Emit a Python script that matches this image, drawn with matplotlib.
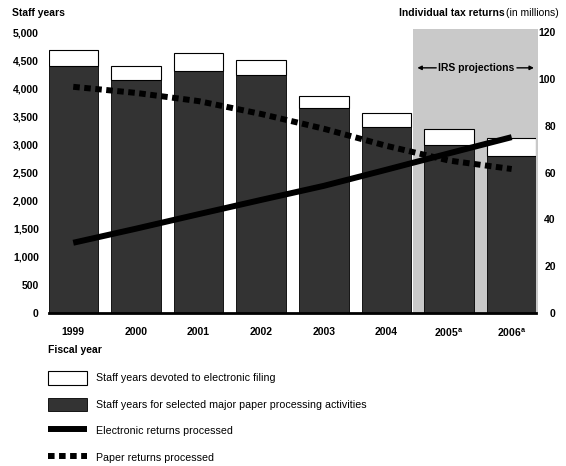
import matplotlib
matplotlib.use("Agg")
import matplotlib.pyplot as plt
from matplotlib.patches import Patch
from matplotlib.lines import Line2D

plt.rcParams['font.family'] = ['Liberation Sans', 'DejaVu Sans']

years = ["1999", "2000", "2001", "2002", "2003", "2004", "2005$^{\\mathregular{a}}$", "2006$^{\\mathregular{a}}$"]
paper_staff = [4400, 4150, 4310, 4235, 3640, 3305, 2990, 2800]
efile_staff = [280, 250, 310, 265, 225, 250, 285, 320]
electronic_returns = [30.0, 36.0, 42.2, 48.3, 54.3, 61.2, 68.2, 75.1]
paper_returns = [96.6, 94.0, 90.5, 85.0, 78.7, 71.4, 65.1, 61.5]
left_ticks = [0, 500, 1000, 1500, 2000, 2500, 3000, 3500, 4000, 4500, 5000]
right_ticks = [0, 20, 40, 60, 80, 100, 120]

dark = "#333333"
shade = "#c9c9c9"

fig = plt.figure(figsize=(5.66, 4.66), dpi=100)
ax = fig.add_axes([0.0857, 0.3283, 0.862, 0.603])
ax2 = ax.twinx()

x = list(range(len(years)))

# projection band behind everything
ax.axvspan(5.43, 7.42, ymin=0, ymax=1.012, color=shade, lw=0, zorder=0, clip_on=False)

ax.bar(x, paper_staff, width=0.79, color=dark, edgecolor="black", linewidth=0.6, zorder=2)
ax.bar(x, efile_staff, width=0.79, bottom=paper_staff, color="white", edgecolor="black",
       linewidth=0.8, zorder=2)

ax.set_xlim(-0.395, 7.395)
ax.set_ylim(0, 5000)
ax2.set_ylim(0, 120)

ax2.plot(x, electronic_returns, color="black", lw=4.3, solid_capstyle="butt", zorder=5)
ax2.plot(x, paper_returns, color="black", lw=4.3, dashes=(1.1, 0.75),
         dash_capstyle="butt", zorder=5)

ax.set_zorder(1)
ax2.set_zorder(2)
ax.patch.set_visible(False)
ax2.patch.set_visible(False)

for a in (ax, ax2):
    for side in ("top", "left", "right"):
        a.spines[side].set_visible(False)
ax2.spines["bottom"].set_visible(False)
ax.spines["bottom"].set_linewidth(2.0)
ax.spines["bottom"].set_zorder(6)

ax.set_xticks(x)
ax.set_xticklabels(years, fontsize=7.5, fontweight="bold")
ax.set_yticks(left_ticks)
ax.set_yticklabels([f"{v:,}" for v in left_ticks], fontsize=7.5, fontweight="bold")
ax2.set_yticks(right_ticks)
ax2.set_yticklabels([str(v) for v in right_ticks], fontsize=7.5, fontweight="bold", ha="right")
ax.tick_params(axis="x", length=0, pad=10)
ax.tick_params(axis="y", length=0, pad=7)
ax2.tick_params(axis="y", length=0, pad=14)

fig.text(0.021, 0.972, "Staff years", fontsize=7.5, fontweight="bold", va="center")
fig.text(0.085, 0.249, "Fiscal year", fontsize=7.5, fontweight="bold", va="center")
t = fig.text(0.988, 0.972, "(in millions)", fontsize=7.5, ha="right", va="center")
fig.canvas.draw()
bb = t.get_window_extent()
fig.text(bb.x0 / fig.bbox.width - 0.004, 0.972, "Individual tax returns", fontsize=7.5,
         fontweight="bold", ha="right", va="center")

# projection label with arrows
ax2.text(6.44, 104.7, "IRS projections", fontsize=7.5, fontweight="bold",
         ha="center", va="center", zorder=6)
ax2.annotate("", xy=(5.45, 104.7), xytext=(5.84, 104.7),
             arrowprops=dict(arrowstyle="-|>", color="black", lw=1.0, mutation_scale=6))
ax2.annotate("", xy=(7.40, 104.7), xytext=(7.04, 104.7),
             arrowprops=dict(arrowstyle="-|>", color="black", lw=1.0, mutation_scale=6))

handles = [
    Patch(facecolor="white", edgecolor="black", linewidth=0.8),
    Patch(facecolor=dark, edgecolor="black", linewidth=0.6),
    Line2D([], [], color="black", lw=4.3, solid_capstyle="butt"),
    Line2D([], [], color="black", lw=4.3, dashes=(1.1, 0.75), dash_capstyle="butt"),
]
labels = [
    "Staff years devoted to electronic filing",
    "Staff years for selected major paper processing activities",
    "Electronic returns processed",
    "Paper returns processed",
]
fig.legend(handles, labels, loc="upper left", bbox_to_anchor=(0.085, 0.204),
           frameon=False, fontsize=7.7, handlelength=3.6, handleheight=1.6,
           labelspacing=1.2, handletextpad=0.9, borderpad=0, borderaxespad=0)

fig.savefig("out.png", dpi=100)
